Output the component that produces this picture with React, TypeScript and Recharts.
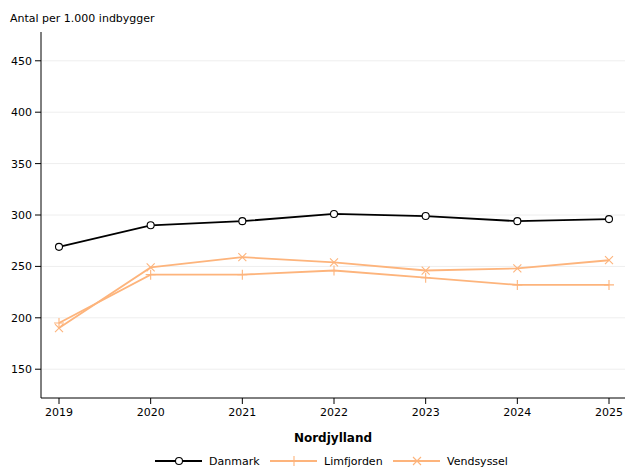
import { LineChart, Line, XAxis, YAxis, CartesianGrid } from "recharts"

const years = ["2019", "2020", "2021", "2022", "2023", "2024", "2025"]
const danmark = [269, 290, 294, 301, 299, 294, 296]
const limfjorden = [195, 242, 242, 246, 239, 232, 232]
const vendsyssel = [190, 249, 259, 254, 246, 248, 256]
const yTicks = [150, 200, 250, 300, 350, 400, 450]

const ORANGE = "#fdb47c"
const FONT = "DejaVu Sans, Verdana, sans-serif"

type Marker = "circle" | "plus" | "cross"

const series: { key: string; label: string; color: string; marker: Marker }[] = [
  { key: "danmark", label: "Danmark", color: "#000000", marker: "circle" },
  { key: "limfjorden", label: "Limfjorden", color: ORANGE, marker: "plus" },
  { key: "vendsyssel", label: "Vendsyssel", color: ORANGE, marker: "cross" },
]

const data = years.map((year, i) => ({
  year,
  danmark: danmark[i],
  limfjorden: limfjorden[i],
  vendsyssel: vendsyssel[i],
}))

function MarkerShape({ cx, cy, marker, color }: { cx: number; cy: number; marker: Marker; color: string }) {
  if (cx == null || cy == null) return null
  if (marker === "circle")
    return <circle cx={cx} cy={cy} r={3.5} fill="#fff" stroke={color} strokeWidth={1.1} />
  if (marker === "plus")
    return (
      <path
        d={`M${cx - 5},${cy}H${cx + 5}M${cx},${cy - 5}V${cy + 5}`}
        stroke={color}
        strokeWidth={1.1}
        fill="none"
      />
    )
  return (
    <path
      d={`M${cx - 4},${cy - 4}L${cx + 4},${cy + 4}M${cx - 4},${cy + 4}L${cx + 4},${cy - 4}`}
      stroke={color}
      strokeWidth={1.1}
      fill="none"
    />
  )
}

const legendX = [155, 270, 393]

export default function App() {
  return (
    <div style={{ position: "absolute", left: 0, top: 0, width: 631, height: 469, background: "#fff" }}>
      <LineChart width={631} height={469} data={data} margin={{ top: 32, right: 6, left: 0, bottom: 41 }}>
        <CartesianGrid vertical={false} stroke="#eeeeee" horizontalValues={yTicks} />
        <XAxis
          dataKey="year"
          scale="point"
          padding={{ left: 18, right: 16 }}
          height={30}
          stroke="#000"
          tickSize={6}
          tickMargin={4}
          tick={{ fontSize: 11, fontFamily: FONT, fill: "#000" }}
        />
        <YAxis
          width={41}
          domain={[122, 478]}
          ticks={yTicks}
          allowDataOverflow
          stroke="#000"
          tickSize={6}
          tickMargin={3}
          tick={{ fontSize: 11, fontFamily: FONT, fill: "#000" }}
        />
        {series.map((s) => (
          <Line
            key={s.key}
            type="linear"
            dataKey={s.key}
            stroke={s.color}
            strokeWidth={1.8}
            isAnimationActive={false}
            dot={(p: any) => <MarkerShape key={`${s.key}-${p.index}`} cx={p.cx} cy={p.cy} marker={s.marker} color={s.color} />}
            activeDot={false}
          />
        ))}
      </LineChart>
      <svg width={631} height={469} style={{ position: "absolute", left: 0, top: 0, pointerEvents: "none" }}>
        <text x={10} y={22} fontSize={11} fontFamily={FONT} fill="#000">
          Antal per 1.000 indbygger
        </text>
        <text x={333} y={442} fontSize={12} fontWeight="bold" fontFamily={FONT} fill="#000" textAnchor="middle">
          Nordjylland
        </text>
        {series.map((s, i) => {
          const x0 = legendX[i]
          const y = 461
          return (
            <g key={s.key}>
              <line x1={x0} x2={x0 + 47} y1={y} y2={y} stroke={s.color} strokeWidth={1.8} />
              <MarkerShape cx={x0 + 24} cy={y} marker={s.marker} color={s.color} />
              <text x={x0 + 54} y={y + 4} fontSize={11} fontFamily={FONT} fill="#000">
                {s.label}
              </text>
            </g>
          )
        })}
      </svg>
    </div>
  )
}
